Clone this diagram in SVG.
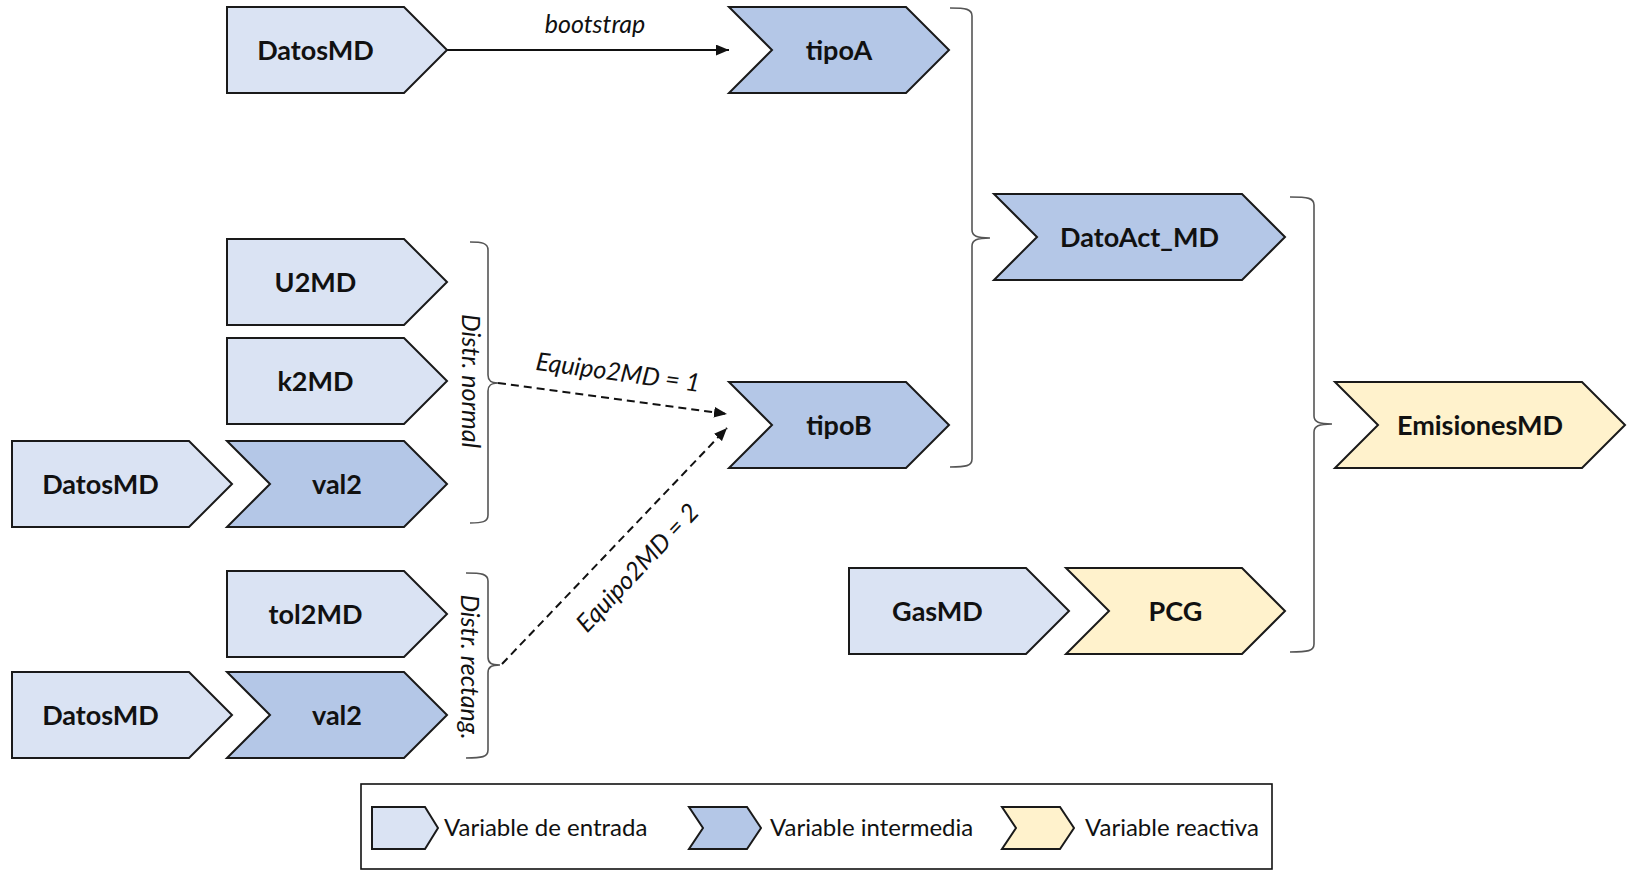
<svg xmlns="http://www.w3.org/2000/svg" width="1627" height="871" viewBox="0 0 1627 871">
  <style>
    .entrada { fill: #DAE3F3; stroke: #1a1a1a; stroke-width: 2; stroke-linejoin: miter; }
    .intermedia { fill: #B4C7E7; stroke: #1a1a1a; stroke-width: 2; stroke-linejoin: miter; }
    .reactiva { fill: #FFF2CC; stroke: #1a1a1a; stroke-width: 2; stroke-linejoin: miter; }
    .label { font-family: Lato, "Open Sans", "Liberation Sans", sans-serif; font-weight: bold; font-size: 27px; fill: #111; text-anchor: middle; }
    .note { font-family: Lato, "Open Sans", "Liberation Sans", sans-serif; font-style: italic; font-size: 25px; fill: #111; text-anchor: middle; }
    .legend-text { font-family: Lato, "Open Sans", "Liberation Sans", sans-serif; font-size: 24px; fill: #111; }
    .brace { fill: none; stroke: #555; stroke-width: 1.6; }
    .solid { fill: none; stroke: #111; stroke-width: 2; }
    .dashed { fill: none; stroke: #111; stroke-width: 2; stroke-dasharray: 8 5; }
  </style>
  <defs>
    <marker id="arrow" viewBox="0 0 12 10" refX="12" refY="5" markerUnits="userSpaceOnUse" markerWidth="13" markerHeight="11" orient="auto">
      <path d="M0,0 L12,5 L0,10 z" fill="#111"/>
    </marker>
  </defs>

  <rect width="1627" height="871" fill="#ffffff"/>

  <!-- connectors and braces -->
  <g id="connectors">
    <path class="solid" d="M447,50 L729,50" marker-end="url(#arrow)"/>
    <path class="dashed" d="M498,383 L727,414" marker-end="url(#arrow)"/>
    <path class="dashed" d="M502,664 L727,428" marker-end="url(#arrow)"/>

    <!-- brace: normal distribution inputs -->
    <path class="brace" d="M470,242 C482,242 488,243 488,250 L488,375 C488,381 491,383 498,383 C491,383 488,385 488,391 L488,515 C488,522 482,523 470,523"/>
    <!-- brace: rectangular distribution inputs -->
    <path class="brace" d="M466,573 C482,573 488,574 488,581 L488,657 C488,663 491,665 500,665 C491,665 488,667 488,673 L488,750 C488,757 482,758 466,758"/>
    <!-- brace: tipoA + tipoB -->
    <path class="brace" d="M950,8 C966,8 972,9 972,16 L972,230 C972,236 977,238 990,238 C977,238 972,240 972,246 L972,459 C972,466 966,467 950,467"/>
    <!-- brace: DatoAct_MD + PCG -->
    <path class="brace" d="M1290,197 C1308,197 1314,198 1314,205 L1314,416 C1314,422 1319,424 1332,424 C1319,424 1314,426 1314,432 L1314,644 C1314,651 1308,652 1290,652"/>

    <text class="note" x="595" y="33">bootstrap</text>
    <text class="note" transform="translate(470,381) rotate(90)" x="0" y="8">Distr. normal</text>
    <text class="note" transform="translate(469,667) rotate(90)" x="0" y="8">Distr. rectang.</text>
    <text class="note" transform="translate(618,373) rotate(7.7)" x="0" y="8">Equipo2MD = 1</text>
    <text class="note" transform="translate(638,568) rotate(-46.7)" x="0" y="8">Equipo2MD = 2</text>
  </g>

  <!-- nodes -->
  <g id="node-datosmd-top">
    <polygon class="entrada" points="227,7 404,7 447,50 404,93 227,93"/>
    <text class="label" x="315.5" y="59.5">DatosMD</text>
  </g>
  <g id="node-tipoA">
    <polygon class="intermedia" points="729,7 906,7 949,50 906,93 729,93 772,50"/>
    <text class="label" x="839" y="59.5">tipoA</text>
  </g>
  <g id="node-u2md">
    <polygon class="entrada" points="227,239 404,239 447,282 404,325 227,325"/>
    <text class="label" x="315.5" y="291.5">U2MD</text>
  </g>
  <g id="node-k2md">
    <polygon class="entrada" points="227,338 404,338 447,381 404,424 227,424"/>
    <text class="label" x="315.5" y="390.5">k2MD</text>
  </g>
  <g id="node-datosmd-mid">
    <polygon class="entrada" points="12,441 189,441 232,484 189,527 12,527"/>
    <text class="label" x="100.5" y="493.5">DatosMD</text>
  </g>
  <g id="node-val2-mid">
    <polygon class="intermedia" points="227,441 404,441 447,484 404,527 227,527 270,484"/>
    <text class="label" x="337" y="493.5">val2</text>
  </g>
  <g id="node-tipoB">
    <polygon class="intermedia" points="729,382 906,382 949,425 906,468 729,468 772,425"/>
    <text class="label" x="839" y="434.5">tipoB</text>
  </g>
  <g id="node-tol2md">
    <polygon class="entrada" points="227,571 404,571 447,614 404,657 227,657"/>
    <text class="label" x="315.5" y="623.5">tol2MD</text>
  </g>
  <g id="node-datosmd-bot">
    <polygon class="entrada" points="12,672 189,672 232,715 189,758 12,758"/>
    <text class="label" x="100.5" y="724.5">DatosMD</text>
  </g>
  <g id="node-val2-bot">
    <polygon class="intermedia" points="227,672 404,672 447,715 404,758 227,758 270,715"/>
    <text class="label" x="337" y="724.5">val2</text>
  </g>
  <g id="node-datoact">
    <polygon class="intermedia" points="994,194 1242,194 1285,237 1242,280 994,280 1037,237"/>
    <text class="label" x="1139.5" y="246.5">DatoAct_MD</text>
  </g>
  <g id="node-emisiones">
    <polygon class="reactiva" points="1335,382 1582,382 1625,425 1582,468 1335,468 1378,425"/>
    <text class="label" x="1480" y="434.5">EmisionesMD</text>
  </g>
  <g id="node-gasmd">
    <polygon class="entrada" points="849,568 1026,568 1069,611 1026,654 849,654"/>
    <text class="label" x="937.5" y="620.5">GasMD</text>
  </g>
  <g id="node-pcg">
    <polygon class="reactiva" points="1066,568 1242,568 1285,611 1242,654 1066,654 1109,611"/>
    <text class="label" x="1175.5" y="620.5">PCG</text>
  </g>

  <!-- legend -->
  <g id="legend">
    <rect x="361" y="784" width="911" height="85" fill="#ffffff" stroke="#111" stroke-width="1.6"/>
    <polygon class="entrada" points="372,807 425,807 438,828 425,849 372,849"/>
    <text class="legend-text" x="444" y="836">Variable de entrada</text>
    <polygon class="intermedia" points="689,807 747,807 761,828 747,849 689,849 703,828"/>
    <text class="legend-text" x="770" y="836">Variable intermedia</text>
    <polygon class="reactiva" points="1002,807 1060,807 1074,828 1060,849 1002,849 1016,828"/>
    <text class="legend-text" x="1085" y="836">Variable reactiva</text>
  </g>
</svg>
